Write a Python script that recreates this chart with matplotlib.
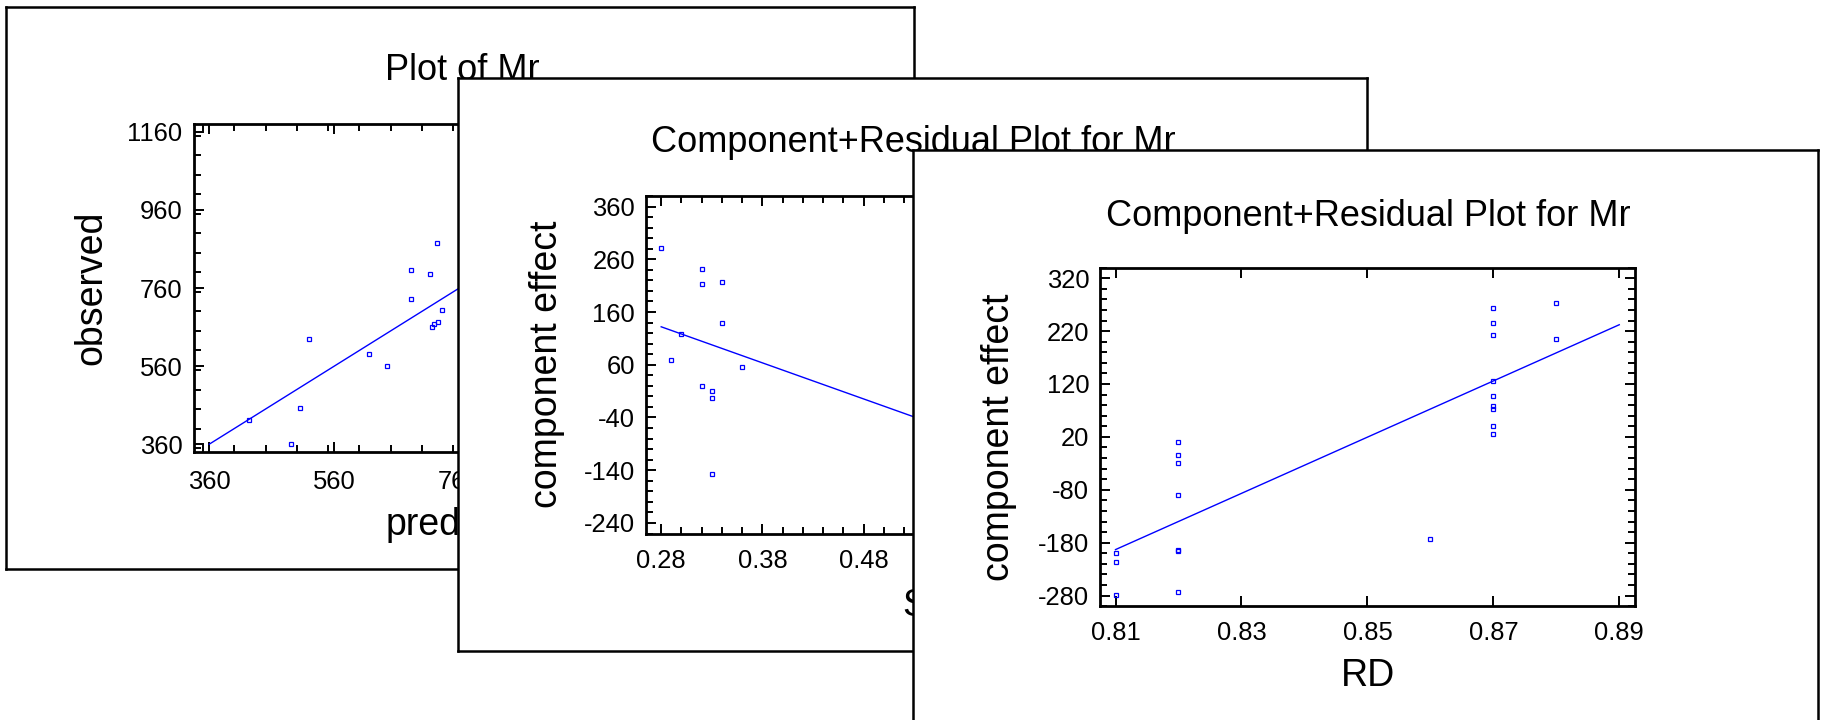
import matplotlib
matplotlib.use("Agg")
import matplotlib.pyplot as plt
import matplotlib.ticker as ticker

plt.rcParams["font.family"] = ["Liberation Sans", "DejaVu Sans"]

W, H = 1823, 720

# Panel 1: observed vs predicted
predicted = [424, 491, 505, 519, 616, 644, 683, 683, 713, 724, 717, 719.5, 726, 733]
observed = [422, 360, 452, 630, 592, 559, 733, 807, 796, 874, 659, 667, 674, 704]
fit1_x = [360, 1160]
fit1_y = [360, 1160]

# Panel 2: component effect vs SD
sd_values = [0.28, 0.32, 0.32, 0.34, 0.34, 0.30, 0.29, 0.36, 0.32, 0.33, 0.33, 0.33]
sd_effect = [282, 241, 214, 216, 140, 118, 69, 55, 19, 11, -3, -147]
fit2_x = [0.28, 0.60]
fit2_y = [132, -87]

# Panel 3: component effect vs RD
rd_values = [0.81, 0.81, 0.81,
             0.82, 0.82, 0.82, 0.82, 0.82, 0.82, 0.82,
             0.86,
             0.87, 0.87, 0.87, 0.87, 0.87, 0.87, 0.87, 0.87, 0.87,
             0.88, 0.88]
rd_effect = [-199, -216, -279,
             10, -14, -30, -90, -194, -196, -274,
             -173,
             264, 235, 213, 126, 98, 78, 72, 41, 25,
             273, 205]
fit3_x = [0.81, 0.89]
fit3_y = [-193, 232]

BLUE = "#0000ff"


def px_rect(x0, y0, x1, y1):
    # pixel box (top-left origin) -> figure fraction rect
    return [x0 / W, 1 - y1 / H, (x1 - x0) / W, (y1 - y0) / H]


def fig_xy(x, y):
    return x / W, 1 - y / H


def draw_panel(fig, z, frame, box, xs, ys, lx, ly, xlim, ylim,
               xmaj, xmin, ymaj, ymin, title, title_xy,
               xlabel, xlabel_xy, ylabel, ylabel_xy, xpad, xfmt, yfmt):
    fr = fig.add_axes(px_rect(*frame), zorder=z)
    fr.set_facecolor("white")
    fr.set_xticks([])
    fr.set_yticks([])
    for sp in fr.spines.values():
        sp.set_linewidth(1.8)

    ax = fig.add_axes(px_rect(*box), zorder=z + 1)
    ax.set_facecolor("white")
    ax.plot(lx, ly, color=BLUE, lw=1.0)
    ax.plot(xs, ys, linestyle="none", marker="s", ms=3.4,
            mfc="none", mec=BLUE, mew=0.9)
    ax.set_xlim(xlim)
    ax.set_ylim(ylim)
    ax.xaxis.set_major_locator(ticker.FixedLocator(xmaj))
    if xmin:
        ax.xaxis.set_minor_locator(ticker.MultipleLocator(xmin))
    ax.yaxis.set_major_locator(ticker.FixedLocator(ymaj))
    ax.yaxis.set_minor_locator(ticker.MultipleLocator(ymin))
    ax.xaxis.set_major_formatter(ticker.FormatStrFormatter(xfmt))
    ax.yaxis.set_major_formatter(ticker.FormatStrFormatter(yfmt))
    ax.tick_params(which="both", direction="in", top=True, right=True,
                   width=1.4, labelsize=18.4)
    ax.tick_params(which="major", length=7.5)
    ax.tick_params(which="minor", length=4.8)
    ax.tick_params(axis="x", pad=xpad)
    ax.tick_params(axis="y", pad=8)
    for sp in ax.spines.values():
        sp.set_linewidth(2.0)

    tx, ty = fig_xy(*title_xy)
    ax.text(tx, ty, title, transform=fig.transFigure, ha="center",
            va="center", fontsize=26)
    bx, by = fig_xy(*xlabel_xy)
    ax.text(bx, by, xlabel, transform=fig.transFigure, ha="center",
            va="center", fontsize=27)
    vx, vy = fig_xy(*ylabel_xy)
    ax.text(vx, vy, ylabel, transform=fig.transFigure, ha="center",
            va="center", rotation=90, fontsize=27)
    return ax


fig = plt.figure(figsize=(W / 100, H / 100), dpi=100)

draw_panel(fig, 0, (6, 7, 914, 569), (193.6, 124, 732, 452),
           predicted, observed, fit1_x, fit1_y,
           (335, 1196), (340, 1180),
           [360, 560, 760, 960, 1160], 50, [360, 560, 760, 960, 1160], 50,
           "Plot of Mr", (462, 70),
           "predicted", (463, 525), "observed", (91, 288),
           13, "%d", "%d")

draw_panel(fig, 2, (458, 78, 1367, 651), (646, 196, 1210, 533.5),
           sd_values, sd_effect, fit2_x, fit2_y,
           (0.265, 0.822), (-260, 380),
           [0.28, 0.38, 0.48, 0.58, 0.68, 0.78], 0.02,
           [-240, -140, -40, 60, 160, 260, 360], 20,
           "Component+Residual Plot for Mr", (913, 143),
           "SD", (928, 606), "component effect", (547, 364),
           11.5, "%.2f", "%d")

draw_panel(fig, 4, (913, 150, 1818, 760), (1100.4, 267.6, 1635, 606.2),
           rd_values, rd_effect, fit3_x, fit3_y,
           (0.8076, 0.8925), (-300, 340),
           [0.81, 0.83, 0.85, 0.87, 0.89], None,
           [-280, -180, -80, 20, 120, 220, 320], 20,
           "Component+Residual Plot for Mr", (1368, 216),
           "RD", (1368, 676), "component effect", (999, 437),
           11, "%.2f", "%d")

fig.savefig("out.png", dpi=100, facecolor="white")
